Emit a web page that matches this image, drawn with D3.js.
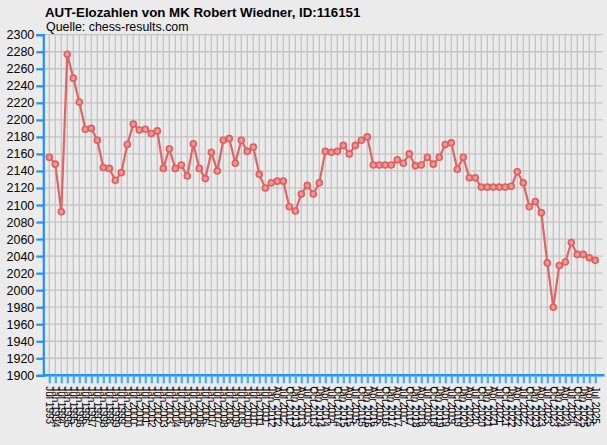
<!DOCTYPE html>
<html><head><meta charset="utf-8">
<script src="https://cdn.jsdelivr.net/npm/d3@7"></script>
<style>
html,body{margin:0;padding:0;background:#ebebeb;}
svg{display:block;}
</style>
</head><body>
<svg id="chart" width="607" height="445"></svg>
<script>
const title = "AUT-Elozahlen von MK Robert Wiedner, ID:116151";
const subtitle = "Quelle: chess-results.com";

const periods = [
"Jul 1993","Jan 1994","Jul 1994","Jan 1995","Jul 1995","Jan 1996","Jul 1996","Jan 1997","Jul 1997","Jan 1998",
"Jul 1998","Jan 1999","Jul 1999","Jan 2000","Jul 2000","Jan 2001","Jul 2001","Jan 2002","Jul 2002","Jan 2003",
"Jul 2003","Jan 2004","Jul 2004","Jan 2005","Jul 2005","Jan 2006","Jul 2006","Jan 2007","Jul 2007","Jan 2008",
"Jul 2008","Jan 2009","Jul 2009","Jan 2010","Jul 2010","Jan 2011","Jul 2011","Jan 2012",
"Apr 2012","Jul 2012","Oct 2012",
"Jan 2013","Apr 2013","Jul 2013","Oct 2013",
"Jan 2014","Apr 2014","Jul 2014","Oct 2014",
"Jan 2015","Apr 2015","Jul 2015","Oct 2015",
"Jan 2016","Apr 2016","Jul 2016","Oct 2016",
"Jan 2017","Apr 2017","Jul 2017","Oct 2017",
"Jan 2018","Apr 2018","Jul 2018","Oct 2018",
"Jan 2019","Apr 2019","Jul 2019","Oct 2019",
"Jan 2020","Apr 2020","Jul 2020","Oct 2020",
"Jan 2021","Apr 2021","Jul 2021","Oct 2021",
"Jan 2022","Apr 2022","Jul 2022","Oct 2022",
"Jan 2023","Apr 2023","Jul 2023","Oct 2023",
"Jan 2024","Apr 2024","Jul 2024","Oct 2024",
"Jan 2025","Apr 2025","Jul 2025"
];

const elo = [
2156,2148,2092,2277,2249,2221,2189,2190,2176,2144,
2143,2129,2138,2171,2195,2188,2189,2184,2187,2143,
2166,2143,2147,2134,2172,2143,2131,2162,2140,2176,
2178,2149,2176,2163,2168,2136,2120,2126,2128,2128,
2098,2093,2113,2123,2113,2126,2163,2162,2163,2170,
2160,2170,2176,2180,2147,2147,2147,2147,2153,2149,
2160,2146,2147,2156,2148,2156,2171,2173,2142,2156,
2132,2132,2121,2121,2121,2121,2121,2122,2139,2126,
2098,2104,2091,2032,1980,2029,2033,2056,2042,2042,
2038,2035
];

const yTicks = [1900,1920,1940,1960,1980,2000,2020,2040,2060,2080,2100,2120,2140,2160,2180,2200,2220,2240,2260,2280,2300];

const svg = d3.select("#chart");
const pLeft = 43.3, pRight = 602.5, pTop = 34.7, pBottom = 375.3;
const step = 6;

const x = d3.scaleLinear().domain([0, (pRight - pLeft) / step]).range([pLeft, pRight]);
const y = d3.scaleLinear().domain([1900, 2300]).range([pBottom, pTop]);

svg.append("rect").attr("width",607).attr("height",445).attr("fill","#ebebeb");

// title
svg.append("text").attr("x",45).attr("y",17)
  .attr("font-family","'Liberation Sans', Arial, sans-serif").attr("font-weight","bold")
  .attr("font-size",13.3).attr("fill","#000").text(title);
svg.append("text").attr("x",46).attr("y",30.5)
  .attr("font-family","'Liberation Sans', Arial, sans-serif")
  .attr("font-size",12.4).attr("fill","#000").text(subtitle);

// grid
const grid = svg.append("g");
grid.selectAll("line.h").data(yTicks).join("line").attr("class","h")
  .attr("x1",pLeft).attr("x2",pRight)
  .attr("y1",d=>y(d)).attr("y2",d=>y(d))
  .attr("stroke","#c4c4c4").attr("stroke-width",1.3);
grid.selectAll("line.v").data(periods).join("line").attr("class","v")
  .attr("x1",(d,i)=>x(i+1)).attr("x2",(d,i)=>x(i+1))
  .attr("y1",pTop).attr("y2",pBottom)
  .attr("stroke","#c4c4c4").attr("stroke-width",1.3);

// y axis
const yAxis = d3.axisLeft(y).tickValues(yTicks).tickSize(7).tickPadding(2).tickFormat(d3.format("d"));
const gy = svg.append("g").attr("transform",`translate(${pLeft},0)`).call(yAxis);
gy.select(".domain").attr("stroke","#1e90ff").attr("stroke-width",2.2);
gy.selectAll(".tick line").attr("stroke","#1e90ff").attr("stroke-width",2.2);
gy.selectAll(".tick text").attr("font-family","'Liberation Sans', Arial, sans-serif")
  .attr("font-size",12.5).attr("fill","#000");

// x axis
const xAxis = d3.axisBottom(x).tickValues(d3.range(1, periods.length+1)).tickSize(8)
  .tickFormat(i => periods[i-1]);
const gx = svg.append("g").attr("transform",`translate(0,${pBottom})`).call(xAxis);
gx.select(".domain").attr("stroke","#1e90ff").attr("stroke-width",2.5).attr("d",`M${pLeft},0H${pRight+2}`);
gx.selectAll(".tick line").attr("stroke","#4aa8ff").attr("stroke-width",2.2);
gx.selectAll(".tick text")
  .attr("font-family","'Liberation Sans', Arial, sans-serif")
  .attr("font-size",10).attr("fill","#000")
  .attr("text-anchor","start")
  .attr("transform","translate(0,3) rotate(90)")
  .attr("x",8).attr("y",0).attr("dy","0.35em");

// line
const line = d3.line().x((d,i)=>x(i+1)).y(d=>y(d));
svg.append("path").datum(elo).attr("d",line)
  .attr("fill","none").attr("stroke","#e06464").attr("stroke-width",2.2).attr("stroke-linejoin","round");

svg.append("g").selectAll("circle").data(elo).join("circle")
  .attr("cx",(d,i)=>x(i+1)).attr("cy",d=>y(d)).attr("r",3)
  .attr("fill","#ec9696").attr("stroke","#dd5e5e").attr("stroke-width",1.6);
</script>
</body></html>
